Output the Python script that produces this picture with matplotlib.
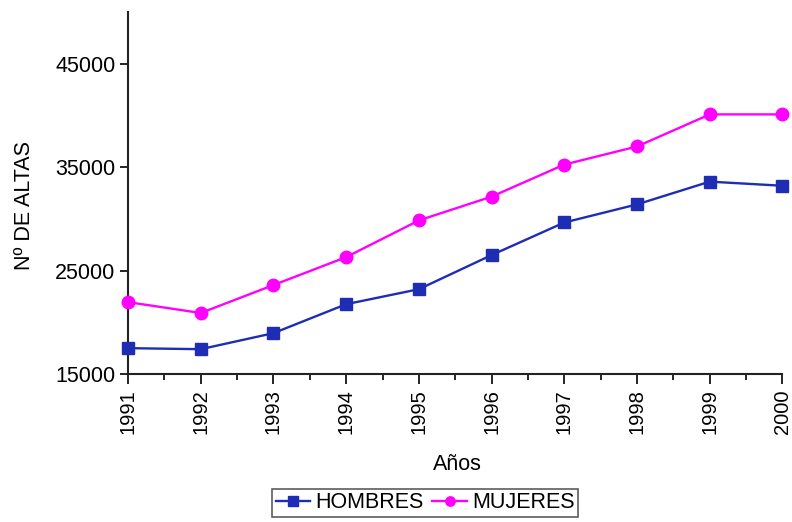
import matplotlib
matplotlib.use("Agg")
import matplotlib.pyplot as plt
from matplotlib.ticker import MultipleLocator

plt.rcParams['font.family'] = ['Liberation Sans', 'DejaVu Sans']

years = [1991, 1992, 1993, 1994, 1995, 1996, 1997, 1998, 1999, 2000]
hombres = [17500, 17400, 18950, 21750, 23200, 26500, 29650, 31400, 33600, 33200]
mujeres = [21950, 20900, 23600, 26300, 29850, 32150, 35250, 37000, 40100, 40100]
y_ticks = [15000, 25000, 35000, 45000]

FS = 15.5

fig = plt.figure(figsize=(7.92, 5.22), dpi=100)
ax = fig.add_axes([0.1616, 0.2835, 0.8264, 0.6935])

ax.plot(years, hombres, color='#1f2db4', lw=1.7, marker='s', ms=9,
        markerfacecolor='#1f2db4', markeredgecolor='#1f2db4', label='HOMBRES', clip_on=False, zorder=3)
ax.plot(years, mujeres, color='#ff00ff', lw=1.7, marker='o', ms=9,
        markerfacecolor='#ff00ff', markeredgecolor='#ff00ff', label='MUJERES', clip_on=False, zorder=3)

ax.set_xlim(1991, 2000)
ax.set_ylim(15000, 50000)
ax.set_yticks(y_ticks)
ax.set_yticklabels([str(v) for v in y_ticks], fontsize=FS)
ax.set_xticks(years)
ax.set_xticklabels([str(y) for y in years], rotation=90, fontsize=14.5)
ax.xaxis.set_minor_locator(MultipleLocator(0.5))
ax.tick_params(axis='x', which='major', direction='out', length=7, width=1.2, pad=4)
ax.tick_params(axis='x', which='minor', direction='out', length=4, width=1.2)
ax.tick_params(axis='y', which='major', direction='out', length=6, width=1.2, pad=3)

for s in ['top', 'right']:
    ax.spines[s].set_visible(False)
for s in ['left', 'bottom']:
    ax.spines[s].set_linewidth(1.5)
    ax.spines[s].set_color('#222222')

ax.set_ylabel('Nº DE ALTAS', fontsize=FS)
ax.set_xlabel('Años', fontsize=FS)
ax.xaxis.set_label_coords(0.503, -0.22)
ax.yaxis.set_label_coords(-0.142, 0.465)

leg = fig.legend(loc='center', bbox_to_anchor=(0.537, 0.0365), ncol=2, fontsize=FS,
                 frameon=True, fancybox=False, edgecolor='#333333', handlelength=1.6,
                 handletextpad=0.25, columnspacing=0.4, borderpad=0.15, borderaxespad=0,
                 markerscale=0.75)
leg.get_frame().set_linewidth(1.2)

fig.savefig('out.png', dpi=100)
